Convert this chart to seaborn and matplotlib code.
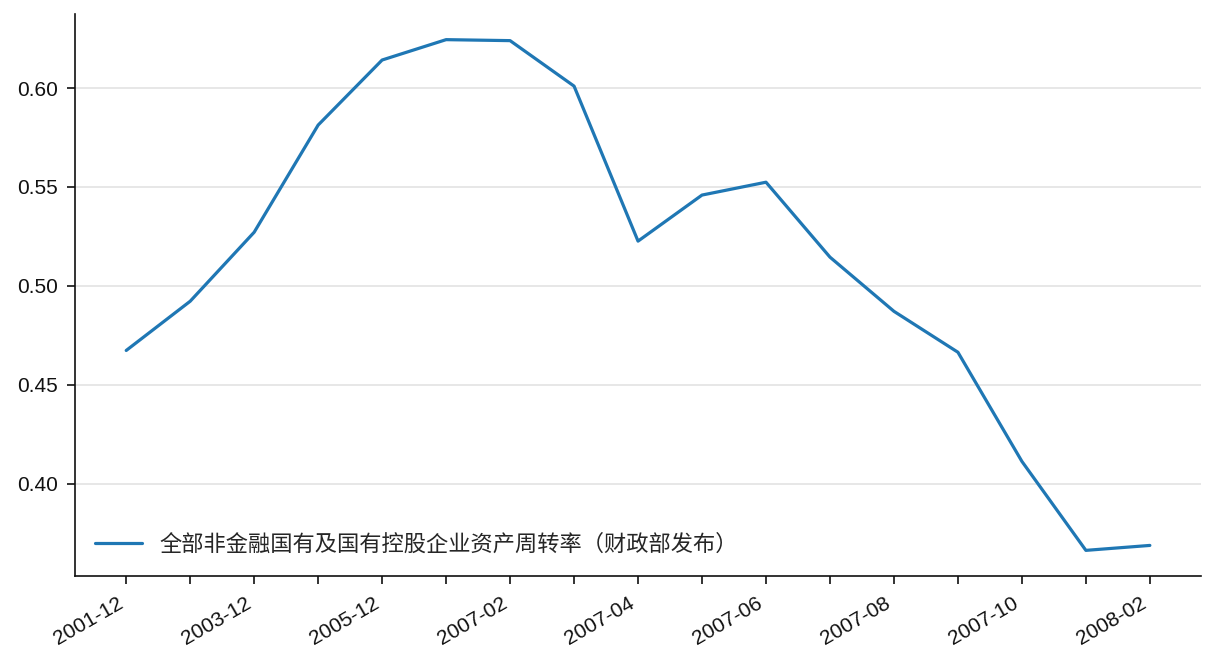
import matplotlib
matplotlib.use("Agg")
import matplotlib.pyplot as plt
import seaborn as sns
import pandas as pd

dates = ["2001-12", "2002-12", "2003-12", "2004-12", "2005-12", "2006-12",
         "2007-02", "2007-03", "2007-04", "2007-05", "2007-06", "2007-07",
         "2007-08", "2007-09", "2007-10", "2007-12", "2008-02"]
values = [0.4673, 0.4922, 0.5271, 0.5813, 0.6142, 0.6245, 0.6240, 0.6010,
          0.5226, 0.5459, 0.5524, 0.5145, 0.4871, 0.4664, 0.4112, 0.3662, 0.3687]
series_name = "全部非金融国有及国有控股企业资产周转率（财政部发布）"

sns.set_theme(style="ticks")
plt.rcParams['font.family'] = ['Liberation Sans', 'Noto Sans CJK SC', 'DejaVu Sans']

df = pd.DataFrame({"x": range(len(dates)), "value": values, "series": series_name})

fig = plt.figure(figsize=(12.16, 6.72), dpi=100)
ax = fig.add_axes([0.0617, 0.143, 0.926, 0.836])
sns.lineplot(data=df, x="x", y="value", hue="series", palette=["#1f77b4"],
             linewidth=2.3, ax=ax)
ax.set_xticks(range(len(dates)))
ax.set_xticklabels([d if i % 2 == 0 else "" for i, d in enumerate(dates)],
                   rotation=30, ha="right", fontsize=15)
ax.tick_params(axis="y", labelsize=15, pad=6.5)
ax.tick_params(axis="x", pad=7)
ax.set_yticks([0.40, 0.45, 0.50, 0.55, 0.60])
ax.yaxis.set_major_formatter(matplotlib.ticker.FormatStrFormatter("%.2f"))
ax.grid(axis="y", color="#e3e3e3", linewidth=1.2)
ax.set_axisbelow(True)
ax.set_xlabel("")
ax.set_ylabel("")
sns.despine(ax=ax)
for s in ["left", "bottom"]:
    ax.spines[s].set_color("#111111")
    ax.spines[s].set_linewidth(1.2)
ax.tick_params(colors="#111111", length=5.5, width=1.2)
leg = ax.legend(loc="lower left", frameon=False, handlelength=2.1,
                prop={'family': ['Noto Sans CJK SC', 'DejaVu Sans'], 'size': 16})
fig.savefig("out.png", dpi=100)
